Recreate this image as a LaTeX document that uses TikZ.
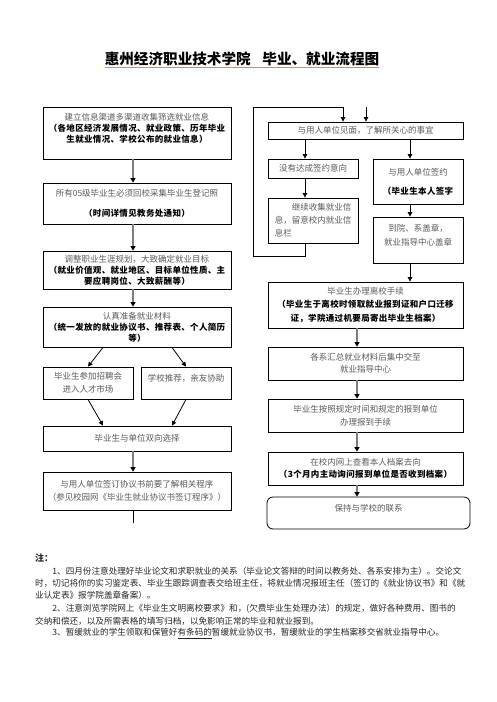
\documentclass[tikz,border=0pt]{standalone}
\usepackage{fontspec}
\setmainfont{Noto Sans CJK SC}
\usetikzlibrary{arrows.meta,calc}
\definecolor{txtgray}{RGB}{90,90,90}
\definecolor{shaft}{RGB}{125,125,125}
\definecolor{titleline}{RGB}{225,140,60}
\newcommand\bx[1]{{\color{black}\bfseries\addfontfeature{LetterSpace=4}#1}}
\tikzset{
  box/.style={draw=black, line width=0.8pt, inner sep=0pt, align=center,
    text=txtgray, font=\fontsize{8.5}{11}\selectfont},
  garr/.style={draw=shaft, line width=1.8pt, -{Triangle[length=4.5pt,width=5pt,color=black]}},
  barr/.style={draw=black, line width=0.8pt, -{Triangle[length=4.5pt,width=4.5pt]}},
  note/.style={anchor=west, inner sep=0pt, text=black!85, font=\fontsize{8.6}{11}\selectfont},
}
\begin{document}
\begin{tikzpicture}[x=1pt,y=-1pt]
\useasboundingbox (0,0) rectangle (496,702);
\fill[white] (0,0) rectangle (496,702);
% title
\node[inner sep=0pt, font=\fontsize{14.6}{16}\selectfont\bfseries] (title) at (242,59) {惠州经济职业技术学院\hspace{0.8em}毕业、就业流程图};
\draw[titleline, line width=0.9pt] (title.south west |- 0,67) -- (title.south east |- 0,67);
% left column
\node[box, minimum width=188pt, minimum height=52pt] (b1) at (137,133) {建立信息渠道多渠道收集筛选就业信息\\\bx{（各地区经济发展情况、就业政策、历年毕业}\\\bx{生就业情况、学校公布的就业信息）}\\ \mbox{}};
\node[box, minimum width=188pt, minimum height=41pt] (b2) at (137,203.5) {所有05级毕业生必须回校采集毕业生登记照\\[9pt]\bx{（时间详情见教务处通知）}};
\node[box, minimum width=188pt, minimum height=38pt] (b3) at (137,270) {调整职业生涯规划，大致确定就业目标\\\bx{（就业价值观、就业地区、目标单位性质、主}\\\bx{要应聘岗位、大致薪酬等）}};
\node[box, minimum width=188pt, minimum height=40pt] (b4) at (137,327) {认真准备就业材料\\\bx{（统一发放的就业协议书、推荐表、个人简历}\\\bx{等）}};
\node[box, minimum width=90pt, minimum height=32pt] (b5a) at (88,383) {毕业生参加招聘会\\[2pt]进入人才市场};
\node[box, minimum width=90pt, minimum height=32pt] (b5b) at (186,383) {学校推荐，亲友协助\\ \mbox{}};
\node[box, minimum width=188pt, minimum height=25pt] (b6) at (137,438.5) {毕业生与单位双向选择};
\node[box, minimum width=188pt, minimum height=38pt] (b7) at (137,491) {与用人单位签订协议书前要了解相关程序\\[2pt]（参见校园网《毕业生就业协议书签订程序》）};
% right column
\node[box, minimum width=195pt, minimum height=17pt] (r1) at (365.5,130.5) {与用人单位见面，了解所关心的事宜};
\node[box, minimum width=90pt, minimum height=19pt] (ra1) at (313,168.5) {没有达成签约意向};
\node[box, minimum width=90pt, minimum height=45pt, align=left, font=\fontsize{8.5}{13}\selectfont] (ra2) at (313,220.5) {\hspace*{2em}继续收集就业信\\息，留意校内就业信\\息栏};
\node[box, minimum width=90pt, minimum height=45pt] (rb1) at (418,181.5) {与用人单位签约\\[8pt]\bx{（毕业生本人签字}};
\node[box, minimum width=90pt, minimum height=46pt] (rb2) at (418,240) {到院、系盖章，\\[3pt]就业指导中心盖章\\ \mbox{}};
\node[box, minimum width=195pt, minimum height=46pt] (r3) at (365.5,305) {毕业生办理离校手续\\[2.5pt]\bx{（毕业生于离校时领取就业报到证和户口迁移}\\[2.5pt]\bx{证，学院通过机要局寄出毕业生档案）}};
\node[box, minimum width=195pt, minimum height=33pt] (r4) at (365.5,363.5) {各系汇总就业材料后集中交至\\[1pt]就业指导中心};
\node[box, minimum width=195pt, minimum height=33pt] (r5) at (365.5,415.5) {毕业生按照规定时间和规定的报到单位\\[2pt]办理报到手续};
\node[box, minimum width=195pt, minimum height=33pt] (r6) at (365.5,468.5) {在校内网上查看本人档案去向\\[1pt]\bx{（3个月内主动询问报到单位是否收到档案）}};
\node[box, minimum width=203pt, minimum height=32pt, rounded corners=6pt] (r7) at (368.5,513) {保持与学校的联系\\ \mbox{}};
% helper columns
\coordinate (lx) at (133,0);
\coordinate (ax) at (305,0);
\coordinate (bx) at (410,0);
\coordinate (cx) at (357,0);
% left arrows
\draw[garr] (b1.south -| lx) -- (b2.north -| lx);
\draw[garr] (b2.south -| lx) -- (b3.north -| lx);
\draw[garr] (b3.south -| lx) -- (b4.north -| lx);
\draw[barr] ($(b4.south)+(-34,0)$) -- (b5a.north);
\draw[barr] ($(b4.south)+(35,0)$) -- (b5b.north);
\draw[barr] (b5a.south) -- ($(b6.north)+(-34,0)$);
\draw[barr] (b5b.south) -- ($(b6.north)+(35,0)$);
\draw[garr] (b6.south -| lx) -- (b7.north -| lx);
\coordinate (lend) at (133,523);
\draw[black, line width=0.8pt] (b7.south -| lx) -- (lend);
% right arrows
\coordinate (f1) at (305,256);
\coordinate (f2) at (253,256);
\coordinate (f3) at (253,107);
\coordinate (f4) at (343,107);
\draw[barr] (ra2.south -| ax) -- (f1) -- (f2) -- (f3) -- (f4) -- (f4 |- r1.north);
\coordinate (in) at (366,107);
\draw[barr] (in) -- (in |- r1.north);
\draw[barr] (r1.south -| ax) -- (ra1.north -| ax);
\draw[barr] (ra1.south -| ax) -- (ra2.north -| ax);
\draw[barr] (r1.south -| bx) -- (rb1.north -| bx);
\draw[barr] (rb1.south -| bx) -- (rb2.north -| bx);
\draw[barr] (rb2.south -| bx) -- (r3.north -| bx);
\draw[garr] (r3.south -| cx) -- (r4.north -| cx);
\draw[garr] (r4.south -| cx) -- (r5.north -| cx);
\draw[garr] (r5.south -| cx) -- (r6.north -| cx);
\draw[garr] (r6.south -| cx) -- (r7.north -| cx);
% notes
\node[note, font=\fontsize{9}{11}\selectfont\bfseries] (n0) at (35,558) {注：};
\node[note] (n1) at (35,571) {\hspace*{2em}1、四月份注意处理好毕业论文和求职就业的关系（毕业论文答辩的时间以教务处、各系安排为主）。交论文};
\node[note] (n2) at (35,583) {时，切记将你的实习鉴定表、毕业生跟踪调查表交给班主任，将就业情况报班主任（签订的《就业协议书》和《就};
\node[note] (n3) at (35,595.5) {业认定表》报学院盖章备案）。};
\node[note] (n4) at (35,609) {\hspace*{2em}2、注意浏览学院网上《毕业生文明离校要求》和，(欠费毕业生处理办法）的规定，做好各种费用、图书的};
\node[note] (n5) at (35,621.5) {交纳和偿还，以及所需表格的填写归档，以免影响正常的毕业和就业报到。};
\node[note] (n6) at (35,633.5) {\hspace*{2em}3、暂缓就业的学生领取和保管好\underline{有条码的}暂缓就业协议书，暂缓就业的学生档案移交省就业指导中心。};
\end{tikzpicture}
\end{document}
